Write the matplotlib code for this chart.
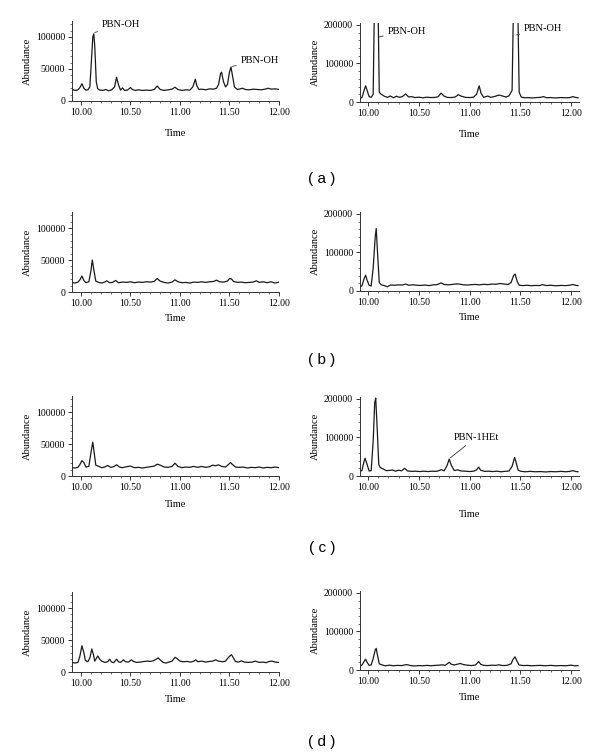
import matplotlib
matplotlib.use("Agg")
import matplotlib.pyplot as plt
from matplotlib.ticker import MultipleLocator, FormatStrFormatter

plt.rcParams['font.family'] = ['Liberation Serif', 'DejaVu Serif']

# chromatogram traces, (time, abundance)
a_left = [(9.91, 19000), (9.93, 17000), (9.95, 16500), (9.97, 17500), (9.99, 21000), (10.01, 27000),
          (10.03, 20000), (10.05, 17000), (10.07, 17500), (10.09, 22000), (10.105, 60000), (10.12, 100000),
          (10.13, 105000), (10.14, 85000), (10.155, 30000), (10.17, 19000), (10.19, 17000), (10.22, 16500),
          (10.25, 18000), (10.28, 16000), (10.31, 17500), (10.34, 22000), (10.36, 37000), (10.38, 25000),
          (10.40, 17000), (10.42, 20500), (10.44, 16500), (10.47, 17000), (10.50, 21000), (10.52, 18000),
          (10.55, 16500), (10.58, 17500), (10.62, 16500), (10.66, 17000), (10.70, 16500), (10.74, 18000),
          (10.77, 23500), (10.80, 18000), (10.84, 16500), (10.88, 17500), (10.92, 18500), (10.95, 21500),
          (10.98, 18000), (11.02, 16500), (11.06, 17500), (11.10, 17000), (11.13, 22000), (11.155, 34000),
          (11.17, 24000), (11.19, 18000), (11.22, 18500), (11.26, 17500), (11.30, 19000), (11.34, 18500),
          (11.37, 20000), (11.39, 26000), (11.41, 43000), (11.42, 45000), (11.44, 30000), (11.46, 22000),
          (11.48, 26000), (11.50, 45000), (11.515, 53000), (11.53, 40000), (11.55, 22000), (11.58, 18000),
          (11.61, 19000), (11.63, 20000), (11.66, 18000), (11.70, 17500), (11.74, 18500), (11.78, 18000),
          (11.82, 17500), (11.86, 18500), (11.89, 20000), (11.92, 18500), (11.96, 19000), (12.00, 18000)]

a_right = [(9.92, 9000), (9.94, 12000), (9.96, 30000), (9.975, 42000), (9.99, 30000), (10.01, 14000),
           (10.03, 12000), (10.05, 20000), (10.08, 600000), (10.11, 25000), (10.13, 20000), (10.16, 15000),
           (10.19, 12000), (10.22, 15500), (10.25, 11000), (10.28, 15000), (10.31, 12000), (10.34, 14500),
           (10.37, 21000), (10.40, 13000), (10.43, 14000), (10.46, 11500), (10.50, 12500), (10.54, 11000),
           (10.58, 12500), (10.62, 11500), (10.66, 12000), (10.69, 13500), (10.72, 23000), (10.75, 15000),
           (10.78, 12000), (10.82, 11500), (10.86, 13000), (10.89, 19000), (10.92, 15000), (10.96, 12000),
           (11.00, 11500), (11.04, 12500), (11.07, 20000), (11.095, 42000), (11.115, 22000), (11.14, 12000),
           (11.18, 15500), (11.21, 12000), (11.25, 14500), (11.29, 18000), (11.32, 16000), (11.36, 13000),
           (11.39, 16000), (11.42, 30000), (11.455, 600000), (11.49, 25000), (11.51, 13000), (11.54, 11000),
           (11.58, 11500), (11.62, 10500), (11.66, 11500), (11.70, 12000), (11.73, 14000), (11.76, 11000),
           (11.80, 11500), (11.85, 10500), (11.90, 11500), (11.95, 11000), (11.99, 11500), (12.02, 14000),
           (12.05, 11500), (12.07, 11000)]

b_left = [(9.91, 15000), (9.94, 14000), (9.97, 15500), (9.99, 19000), (10.01, 25000), (10.03, 18000),
          (10.05, 14500), (10.08, 16000), (10.10, 32000), (10.115, 50000), (10.13, 35000), (10.15, 17000),
          (10.18, 15000), (10.21, 14000), (10.24, 15500), (10.26, 17500), (10.29, 14500), (10.32, 15000),
          (10.35, 18000), (10.38, 14500), (10.42, 15500), (10.46, 15000), (10.50, 16000), (10.54, 14500),
          (10.58, 15500), (10.62, 15000), (10.66, 16000), (10.70, 15500), (10.74, 16500), (10.77, 21000),
          (10.80, 17000), (10.84, 15000), (10.88, 14000), (10.92, 15500), (10.95, 19000), (10.98, 16000),
          (11.02, 14500), (11.06, 15000), (11.10, 14000), (11.14, 15500), (11.18, 15000), (11.22, 16000),
          (11.26, 15000), (11.30, 16000), (11.34, 16500), (11.37, 18500), (11.40, 16000), (11.44, 15500),
          (11.48, 17000), (11.50, 21000), (11.52, 20500), (11.54, 16500), (11.58, 15000), (11.62, 15500),
          (11.66, 14500), (11.70, 15000), (11.74, 15500), (11.77, 17500), (11.80, 15000), (11.84, 16000),
          (11.88, 14500), (11.92, 16000), (11.96, 14000), (12.00, 15500)]

b_right = [(9.92, 9000), (9.94, 14000), (9.96, 32000), (9.975, 41000), (9.99, 28000), (10.01, 15000),
           (10.03, 13000), (10.05, 60000), (10.07, 140000), (10.08, 162000), (10.095, 90000), (10.11, 22000),
           (10.13, 16000), (10.16, 14000), (10.19, 11000), (10.22, 15500), (10.26, 15000), (10.30, 16000),
           (10.34, 15500), (10.37, 18000), (10.40, 15000), (10.44, 16000), (10.48, 15000), (10.52, 14500),
           (10.56, 15500), (10.60, 14000), (10.64, 16000), (10.68, 16500), (10.72, 21000), (10.75, 17000),
           (10.79, 16000), (10.83, 17000), (10.87, 18500), (10.90, 18000), (10.94, 16000), (10.98, 15500),
           (11.02, 16500), (11.06, 17000), (11.10, 16000), (11.14, 17500), (11.18, 16500), (11.22, 18000),
           (11.26, 17500), (11.30, 19500), (11.34, 18000), (11.38, 17000), (11.41, 22000), (11.435, 40000),
           (11.45, 44000), (11.47, 25000), (11.49, 15000), (11.53, 14000), (11.57, 15000), (11.61, 13500),
           (11.65, 14500), (11.69, 14000), (11.72, 16500), (11.76, 14000), (11.80, 15000), (11.85, 13500),
           (11.90, 14500), (11.95, 14000), (11.99, 15000), (12.02, 17000), (12.05, 14500), (12.07, 14000)]

c_left = [(9.91, 13000), (9.94, 12500), (9.97, 13500), (9.99, 18000), (10.01, 24000), (10.03, 21000),
          (10.05, 14000), (10.08, 15000), (10.10, 35000), (10.12, 53000), (10.135, 35000), (10.15, 17000),
          (10.18, 15000), (10.21, 13000), (10.24, 14000), (10.27, 16500), (10.30, 13500), (10.33, 14500),
          (10.36, 17500), (10.39, 14000), (10.42, 13000), (10.46, 14500), (10.50, 15500), (10.54, 13000),
          (10.58, 13500), (10.62, 12500), (10.66, 13500), (10.70, 14500), (10.74, 15500), (10.77, 18500),
          (10.80, 17000), (10.84, 14000), (10.88, 13500), (10.92, 15000), (10.95, 20000), (10.98, 15000),
          (11.02, 13000), (11.06, 14000), (11.10, 13500), (11.14, 15000), (11.18, 13500), (11.22, 15000),
          (11.26, 13500), (11.30, 14500), (11.33, 17000), (11.36, 16000), (11.39, 17500), (11.42, 15000),
          (11.46, 14000), (11.49, 18000), (11.51, 21000), (11.53, 18000), (11.56, 14000), (11.60, 13500),
          (11.64, 14000), (11.68, 12500), (11.72, 13500), (11.76, 13000), (11.80, 14000), (11.84, 12500),
          (11.88, 13500), (11.92, 13000), (11.96, 14000), (12.00, 13000)]

c_right = [(9.92, 11000), (9.94, 15000), (9.96, 38000), (9.97, 46000), (9.99, 30000), (10.01, 13000),
           (10.03, 14000), (10.05, 90000), (10.065, 190000), (10.075, 202000), (10.09, 120000), (10.105, 30000),
           (10.12, 22000), (10.15, 18000), (10.18, 14000), (10.21, 14500), (10.24, 15500), (10.27, 12500),
           (10.30, 15000), (10.33, 13500), (10.36, 20000), (10.39, 13000), (10.43, 12000), (10.47, 12500),
           (10.51, 11500), (10.55, 12500), (10.59, 11500), (10.63, 12500), (10.67, 12000), (10.70, 14000),
           (10.72, 16500), (10.75, 13500), (10.78, 28000), (10.80, 44000), (10.82, 28000), (10.85, 14000),
           (10.88, 16000), (10.92, 13000), (10.96, 12500), (11.00, 11500), (11.04, 12500), (11.07, 16000),
           (11.09, 23000), (11.11, 15000), (11.15, 12000), (11.19, 12500), (11.23, 11500), (11.27, 12500),
           (11.31, 11000), (11.35, 12000), (11.39, 13000), (11.42, 25000), (11.445, 48000), (11.46, 35000),
           (11.48, 15000), (11.51, 12000), (11.55, 11000), (11.60, 12000), (11.65, 11000), (11.70, 11500),
           (11.75, 10500), (11.80, 11500), (11.85, 11000), (11.90, 12000), (11.95, 11000), (11.99, 12000),
           (12.02, 14000), (12.05, 11500), (12.07, 11000)]

d_left = [(9.91, 15000), (9.94, 14000), (9.97, 15000), (9.99, 25000), (10.01, 41000), (10.03, 30000),
          (10.045, 18000), (10.07, 16000), (10.09, 22000), (10.11, 36000), (10.125, 28000), (10.14, 17000),
          (10.17, 25000), (10.19, 20000), (10.21, 17000), (10.24, 15000), (10.27, 16000), (10.29, 20000),
          (10.31, 15500), (10.33, 14500), (10.36, 20000), (10.38, 16000), (10.40, 15000), (10.43, 19000),
          (10.45, 16000), (10.48, 15500), (10.51, 19000), (10.53, 16500), (10.56, 15000), (10.60, 15500),
          (10.64, 16500), (10.67, 17000), (10.70, 16500), (10.73, 17500), (10.76, 20000), (10.78, 22000),
          (10.80, 19000), (10.83, 15000), (10.86, 14000), (10.89, 15500), (10.92, 17000), (10.95, 23000),
          (10.97, 21000), (11.00, 17000), (11.03, 16000), (11.07, 16500), (11.11, 15500), (11.14, 17000),
          (11.16, 19000), (11.18, 16000), (11.22, 17000), (11.26, 15500), (11.30, 16500), (11.33, 17000),
          (11.36, 19000), (11.39, 17000), (11.43, 16000), (11.46, 17000), (11.49, 23000), (11.52, 27000),
          (11.54, 22000), (11.56, 16500), (11.59, 15500), (11.62, 17500), (11.65, 15500), (11.69, 15000),
          (11.73, 15500), (11.76, 17000), (11.80, 15000), (11.84, 15500), (11.87, 14500), (11.90, 16500),
          (11.93, 17000), (11.96, 15500), (12.00, 15000)]

d_right = [(9.92, 10000), (9.94, 13000), (9.96, 22000), (9.975, 28000), (9.99, 20000), (10.01, 12000),
           (10.03, 13000), (10.05, 30000), (10.07, 52000), (10.08, 56000), (10.095, 35000), (10.11, 16000),
           (10.14, 13000), (10.17, 11000), (10.21, 12500), (10.25, 11000), (10.29, 12000), (10.33, 11500),
           (10.38, 14000), (10.42, 11500), (10.46, 10500), (10.50, 11500), (10.54, 11000), (10.58, 12000),
           (10.62, 11000), (10.66, 12000), (10.70, 12500), (10.73, 13500), (10.76, 12000), (10.80, 20000),
           (10.82, 15000), (10.85, 13000), (10.88, 15000), (10.91, 17000), (10.94, 14000), (10.98, 12500),
           (11.02, 11500), (11.06, 13000), (11.09, 22000), (11.11, 15000), (11.14, 12000), (11.18, 11500),
           (11.22, 12500), (11.26, 12000), (11.29, 13500), (11.33, 11500), (11.37, 12000), (11.41, 16000),
           (11.43, 28000), (11.45, 34000), (11.47, 22000), (11.49, 13000), (11.53, 11500), (11.57, 12000),
           (11.61, 11000), (11.65, 11500), (11.70, 12000), (11.75, 11000), (11.80, 12000), (11.85, 11000),
           (11.90, 11500), (11.95, 11000), (12.00, 12500), (12.04, 11000), (12.07, 11500)]

panel_labels = ['( a )', '( b )', '( c )', '( d )']

# peak annotations: panel, text, text pos, point on peak
notes = [('a_left', 'PBN-OH', (10.21, 120000), (10.14, 107000)),
         ('a_left', 'PBN-OH', (11.61, 63000), (11.525, 54000)),
         ('a_right', 'PBN-OH', (10.19, 184000), (10.11, 169000)),
         ('a_right', 'PBN-OH', (11.535, 190000), (11.465, 174000)),
         ('c_right', 'PBN-1HEt', (10.84, 100000), (10.81, 47000))]

fig = plt.figure(figsize=(6, 7.56), dpi=100)

W, H = 600.0, 756.0
# (trace, left side?, y pixel of zero line, time label pad)
layout = {'a_left': (a_left, True, 101, 9),
          'a_right': (a_right, False, 102, 9),
          'b_left': (b_left, True, 292, 4.5),
          'b_right': (b_right, False, 291, 4.5),
          'c_left': (c_left, True, 476, 6),
          'c_right': (c_right, False, 476, 13),
          'd_left': (d_left, True, 672, 5),
          'd_right': (d_right, False, 670, 5)}

axes = {}
for name, (trace, is_left, y0, lpad) in layout.items():
    if is_left:
        ax = fig.add_axes([72 / W, 1 - y0 / H, 207 / W, 80 / H])
        ax.set_xlim(9.91, 12.0)
        ax.set_ylim(0, 125000)
        ax.yaxis.set_major_locator(MultipleLocator(50000))
        ax.yaxis.set_minor_locator(MultipleLocator(10000))
    else:
        ax = fig.add_axes([360 / W, 1 - y0 / H, 219 / W, 79 / H])
        ax.set_xlim(9.92, 12.08)
        ax.set_ylim(0, 205000)
        ax.yaxis.set_major_locator(MultipleLocator(100000))
        ax.yaxis.set_minor_locator(MultipleLocator(20000))
    t = [p[0] for p in trace]
    v = [p[1] for p in trace]
    ax.plot(t, v, color='#1a1a1a', lw=0.9)
    ax.xaxis.set_major_locator(MultipleLocator(0.5))
    ax.xaxis.set_minor_locator(MultipleLocator(0.1))
    ax.xaxis.set_major_formatter(FormatStrFormatter('%.2f'))
    for s in ['top', 'right']:
        ax.spines[s].set_visible(False)
    for s in ['left', 'bottom']:
        ax.spines[s].set_linewidth(0.7)
        ax.spines[s].set_color('#333333')
    ax.tick_params(which='major', length=3, width=0.7, labelsize=7, pad=2, color='#333333')
    ax.tick_params(which='minor', length=1.5, width=0.5, color='#333333')
    ax.set_xlabel('Time', fontsize=7.5, labelpad=lpad)
    ax.set_ylabel('Abundance', fontsize=7.5, labelpad=3)
    axes[name] = ax

for name, txt, xy_text, xy_peak in notes:
    ax = axes[name]
    ax.annotate(txt, xy=xy_peak, xytext=xy_text, fontsize=7.5, va='center', ha='left',
                annotation_clip=False,
                arrowprops=dict(arrowstyle='-', lw=0.6, color='#333333', shrinkA=1, shrinkB=0))

for lab, ypix in zip(panel_labels, [179, 360, 548, 742]):
    fig.text(322 / W, 1 - ypix / H, lab, fontsize=11, ha='center', va='center',
             family=['Liberation Sans', 'DejaVu Sans'])

fig.savefig('out.png', dpi=100)
